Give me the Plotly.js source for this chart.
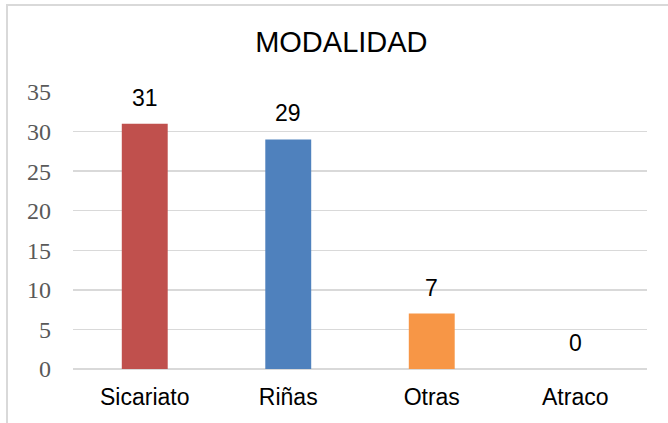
<!DOCTYPE html>
<html><head><meta charset="utf-8">
<script src="https://cdn.plot.ly/plotly-3.0.1.min.js"></script>
<style>
html,body{margin:0;padding:0;background:#fff;}
#wrap{position:relative;width:668px;height:423px;overflow:hidden;}
#chart{position:absolute;left:0;top:0;width:668px;height:423px;}
#frame{position:absolute;left:6px;top:4px;width:700px;height:500px;border:2px solid #d9d9d9;pointer-events:none;box-sizing:border-box;}
</style></head>
<body><div id="wrap"><div id="chart"></div><div id="frame"></div></div>
<script>
const categories = ["Sicariato", "Riñas", "Otras", "Atraco"];
const values = [31, 29, 7, 0];
const colors = ["#C0504D", "#4F81BD", "#F79646", "#9BBB59"];
const yTicks = [0, 5, 10, 15, 20, 25, 30, 35];

const trace = {
  type: "bar",
  x: categories,
  y: values,
  marker: {color: colors},
  width: 0.32,
  hoverinfo: "none"
};
const annotations = categories.map((c, i) => ({
  x: c, y: values[i], xref: "x", yref: "y",
  text: String(values[i]), showarrow: false,
  yanchor: "bottom", yshift: 11,
  font: {family: "Liberation Sans, Arial, sans-serif", size: 23, color: "#000"}
}));
const layout = {
  width: 668, height: 423,
  margin: {l: 73, r: 21, t: 92, b: 54},
  paper_bgcolor: "rgba(0,0,0,0)",
  plot_bgcolor: "rgba(0,0,0,0)",
  title: {text: "MODALIDAD", x: 0.511, xanchor: "center", y: 0.902, yanchor: "middle",
    font: {family: "Liberation Sans, Arial, sans-serif", size: 29, color: "#000"}},
  showlegend: false,
  xaxis: {
    type: "category", showgrid: false, zeroline: false, showline: false, ticks: "",
    tickfont: {family: "Liberation Sans, Arial, sans-serif", size: 23, color: "#000"},
    ticklabelstandoff: 12
  },
  yaxis: {
    range: [0, 35], tickvals: yTicks, ticktext: yTicks.map(String),
    showgrid: true, gridcolor: "#d9d9d9", gridwidth: 1.5,
    zeroline: true, zerolinecolor: "#d9d9d9", zerolinewidth: 1.5,
    showline: false, ticks: "",
    tickfont: {family: "Liberation Serif, Cambria, serif", size: 24, color: "#595959"},
    ticklabelstandoff: 21
  },
  annotations: annotations
};
Plotly.newPlot("chart", [trace], layout, {staticPlot: true, displayModeBar: false});
</script></body></html>
